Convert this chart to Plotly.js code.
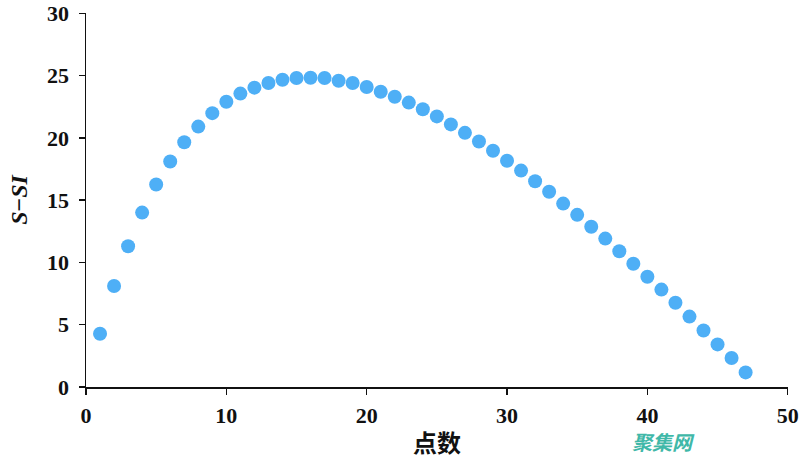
<!DOCTYPE html>
<html>
<head>
<meta charset="utf-8">
<script src="https://cdn.plot.ly/plotly-3.0.1.min.js"></script>
<style>
  html, body { margin: 0; padding: 0; background: #fff; }
  #chart { width: 800px; height: 460px; }
</style>
</head>
<body>
<div id="chart"></div>
<script>
// point index (点数)
var points = [];
for (var i = 1; i <= 47; i++) points.push(i);

// S-SI values
var ssi = [
    4.27, 8.11, 11.3, 14.0, 16.25, 18.1, 19.65, 20.9, 21.98, 22.9,
    23.55, 24.03, 24.4, 24.66, 24.8, 24.82, 24.8, 24.58, 24.4, 24.08,
    23.7, 23.3, 22.83, 22.3, 21.72, 21.08, 20.4, 19.7, 18.96, 18.16,
    17.37, 16.52, 15.67, 14.72, 13.82, 12.86, 11.91, 10.9, 9.89, 8.85,
    7.82, 6.76, 5.65, 4.53, 3.42, 2.33, 1.17
];

var xTicks = [0, 10, 20, 30, 40, 50];
var yTicks = [0, 5, 10, 15, 20, 25, 30];

var tickFont = {
    family: '"Liberation Serif", serif',
    size: 22,
    color: '#111',
    weight: 'bold'
};

var trace1 = {
    x: points,
    y: ssi,
    type: 'scatter',
    mode: 'markers',
    marker: {
        color: '#4eaff6',
        size: 14
    },
    hoverinfo: 'x+y'
};

var layout = {
    width: 800,
    height: 460,
    paper_bgcolor: '#fff',
    plot_bgcolor: '#fff',
    showlegend: false,
    margin: {
        l: 86,
        r: 12,
        t: 13,
        b: 73
    },
    xaxis: {
        range: [0, 50.02],
        tickmode: 'array',
        tickvals: xTicks,
        showgrid: false,
        zeroline: false,
        showline: true,
        linecolor: '#111',
        linewidth: 1.5,
        ticks: 'outside',
        ticklen: 6,
        tickwidth: 1.5,
        tickcolor: '#111',
        tickfont: tickFont,
        ticklabeloverflow: 'allow',
        ticklabelstandoff: 2,
        title: {
            text: '点数',
            font: {
                family: '"Noto Sans CJK SC", sans-serif',
                size: 24,
                color: '#111',
                weight: 'bold'
            },
            standoff: 8
        }
    },
    yaxis: {
        range: [0, 30.02],
        tickmode: 'array',
        tickvals: yTicks,
        showgrid: false,
        zeroline: false,
        showline: true,
        linecolor: '#111',
        linewidth: 1.5,
        ticks: 'outside',
        ticklen: 6,
        tickwidth: 1.5,
        tickcolor: '#111',
        tickfont: tickFont,
        ticklabeloverflow: 'allow',
        ticklabelstandoff: 5,
        title: {
            text: '<i>S</i>−<i>SI</i>',
            font: {
                family: '"Liberation Serif", serif',
                size: 24,
                color: '#111',
                weight: 'bold'
            },
            standoff: 12
        }
    },
    annotations: [{
        text: '<i>聚集网</i>',
        xref: 'paper',
        yref: 'paper',
        x: 0.823,
        y: -0.145,
        xanchor: 'center',
        yanchor: 'middle',
        showarrow: false,
        font: {
            family: '"Noto Sans CJK SC", sans-serif',
            size: 20,
            color: '#3fb8a8',
            weight: 'bold'
        }
    }]
};

var config = { displayModeBar: false, staticPlot: true };

Plotly.newPlot('chart', [trace1], layout, config);
</script>
</body>
</html>
